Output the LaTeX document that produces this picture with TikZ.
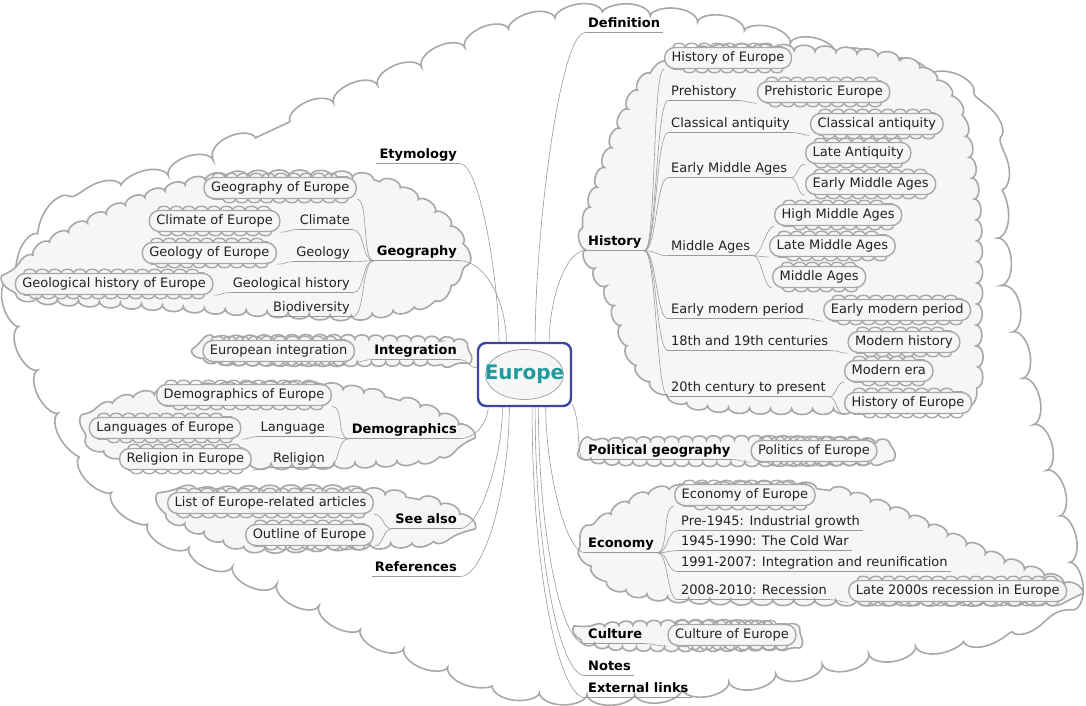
\documentclass[tikz,border=0pt]{standalone}
\usepackage{fontspec}
\setmainfont{DejaVu Sans}
\usetikzlibrary{decorations.pathmorphing, positioning}
\definecolor{cloudgray}{HTML}{A8A8A8}
\definecolor{cloudfill}{HTML}{F6F6F6}
\definecolor{linkgray}{HTML}{9A9A9A}
\definecolor{textgray}{HTML}{222222}
\definecolor{rootblue}{HTML}{3A46A0}
\definecolor{rootteal}{HTML}{22999A}
\pgfdeclarelayer{clouds}
\pgfdeclarelayer{links}
\pgfsetlayers{clouds,links,main}

\tikzset{
  fork/.style={draw=linkgray, line width=0.6pt},
  link/.style={draw=linkgray, line width=0.6pt},
  puffs/.style={draw=cloudgray, line width=1.4pt, decorate, decoration={bumps, segment length=25pt, amplitude=3.5pt}},
  topic/.style={font=\fontsize{13}{15}\selectfont, text=textgray, inner xsep=3pt, inner ysep=2pt,
    text height=10pt, text depth=3pt,
    append after command={(\tikzlastnode.south west) edge[fork] (\tikzlastnode.south east)}},
  maintopic/.style={topic, font=\fontsize{13}{15}\selectfont\bfseries, text=black},
  leaf/.style={font=\fontsize{13}{15}\selectfont, text=textgray, inner xsep=7pt, inner ysep=4pt,
    text height=10pt, text depth=3pt, rounded corners=10pt, fill=cloudfill, draw=cloudgray, line width=1.4pt,
    append after command={([xshift=9pt]\tikzlastnode.north west) edge[puffs] ([xshift=-9pt]\tikzlastnode.north east)
      ([xshift=-9pt]\tikzlastnode.south east) edge[puffs] ([xshift=9pt]\tikzlastnode.south west)}},
  groupcloud/.style={draw=cloudgray, fill=cloudfill, line width=1.6pt, decorate,
    decoration={bumps, segment length=42pt, amplitude=6pt}},
  smallcloud/.style={groupcloud, decoration={bumps, segment length=28pt, amplitude=4.5pt}},
  bigcloud/.style={groupcloud, fill=white, decoration={bumps, segment length=95pt, amplitude=12pt}},
}

\begin{document}
\begin{tikzpicture}[x=1pt, y=-1pt]
\useasboundingbox (0,0) rectangle (1086,705);

% clouds
\begin{pgfonlayer}{clouds}
\draw[bigcloud] plot[smooth cycle] coordinates {(178,172) (290,122) (400,76) (500,34) (590,16) (700,24)
  (830,54) (945,84) (990,140) (1000,260) (1028,400) (1060,520) (1066,586) (1006,626) (880,652)
  (760,676) (640,692) (520,688) (400,646) (300,596) (180,541) (100,476) (44,380) (18,300) (62,214)};
\draw[groupcloud] plot[smooth cycle] coordinates {(300,176) (380,182) (436,214) (462,252) (436,296)
  (360,314) (250,310) (130,303) (42,298) (18,290) (16,276) (50,244) (130,204) (210,180)};
\draw[smallcloud] plot[smooth cycle] coordinates {(330,339) (440,341) (458,344) (465,351) (458,358)
  (440,361) (330,362) (230,361) (206,357) (199,350) (206,343) (230,340)};
\draw[groupcloud] plot[smooth cycle] coordinates {(320,388) (400,401) (462,430) (430,456) (330,463)
  (200,462) (112,452) (92,436) (92,418) (130,400) (210,389)};
\draw[groupcloud] plot[smooth cycle] coordinates {(330,491) (420,500) (462,520) (430,539) (330,545)
  (250,546) (192,526) (168,512) (172,496) (200,493)};
\draw[groupcloud] plot[smooth cycle] coordinates {(800,51) (900,61) (954,104) (974,200) (976,320)
  (966,398) (850,408) (700,404) (642,370) (612,300) (586,242) (604,170) (642,86) (700,53)};
\draw[smallcloud] plot[smooth cycle] coordinates {(760,440) (876,443) (888,451) (876,460) (760,462)
  (620,461) (585,455) (585,447) (620,442)};
\draw[groupcloud] plot[smooth cycle] coordinates {(750,487) (830,491) (900,514) (990,556) (1068,587)
  (1052,599) (900,600) (700,598) (620,586) (584,548) (614,514) (660,493)};
\draw[smallcloud] plot[smooth cycle] coordinates {(720,624) (786,627) (797,636) (786,645) (700,647)
  (620,646) (585,640) (585,632) (620,626)};
\end{pgfonlayer}

% root
\node[draw=rootblue, line width=2.4pt, rounded corners=8pt, minimum width=93pt, minimum height=63pt,
  font=\fontsize{20}{24}\selectfont\bfseries, text=rootteal,
  path picture={\draw[cloudgray, fill=cloudfill, line width=0.8pt] (path picture bounding box.center) ellipse (39pt and 25pt);}]
  (europe) at (524.5,374.5) {Europe};

% main branches
\node[maintopic, anchor=east] (etym) at (460,155) {Etymology};
\node[maintopic, anchor=east] (geog) at (460,252) {Geography};
\node[maintopic, anchor=east] (integ) at (460,351) {Integration};
\node[maintopic, anchor=east] (demo) at (460,430) {Demographics};
\node[maintopic, anchor=east] (seealso) at (460,520) {See also};
\node[maintopic, anchor=east] (refs) at (460,568) {References};
\node[maintopic, anchor=west] (defn) at (585,24) {Definition};
\node[maintopic, anchor=west] (hist) at (585,242) {History};
\node[maintopic, anchor=west] (polgeo) at (585,451) {Political geography};
\node[maintopic, anchor=west] (econ) at (585,544) {Economy};
\node[maintopic, anchor=west] (cult) at (585,635) {Culture};
\node[maintopic, anchor=west] (notes) at (585,667) {Notes};
\node[maintopic, anchor=west] (extl) at (585,689) {External links};

% geography
\node[leaf, anchor=east] (geoeu) at (357,188) {Geography of Europe};
\node[topic, anchor=east] (climate) at (353,221) {Climate};
\node[topic, anchor=east] (geology) at (353,253) {Geology};
\node[topic, anchor=east] (geohist) at (353,284) {Geological history};
\node[topic, anchor=east] (biodiv) at (353,308) {Biodiversity};
\node[leaf, left=16pt of climate] (climeu) {Climate of Europe};
\node[leaf, left=16pt of geology] (geoleu) {Geology of Europe};
\node[leaf, left=16pt of geohist] (geohisteu) {Geological history of Europe};
\node[leaf, left=16pt of integ] (integeu) {European integration};

% demographics
\node[leaf, anchor=east] (demoeu) at (332,395) {Demographics of Europe};
\node[topic, anchor=east] (lang) at (328,428) {Language};
\node[topic, anchor=east] (relig) at (328,459) {Religion};
\node[leaf, left=16pt of lang] (langeu) {Languages of Europe};
\node[leaf, left=18pt of relig] (religeu) {Religion in Europe};

% see also
\node[leaf, anchor=east] (listeu) at (374,503) {List of Europe-related articles};
\node[leaf, anchor=east] (outline) at (374,535) {Outline of Europe};

% history
\node[leaf, anchor=west] (histeu) at (664,58) {History of Europe};
\node[topic, anchor=west] (prehist) at (668,92) {Prehistory};
\node[topic, anchor=west] (classant) at (668,124) {Classical antiquity};
\node[topic, anchor=west] (earlyma) at (668,169) {Early Middle Ages};
\node[topic, anchor=west] (midages) at (668,247) {Middle Ages};
\node[topic, anchor=west] (earlymod) at (668,310) {Early modern period};
\node[topic, anchor=west] (cent1819) at (668,342) {18th and 19th centuries};
\node[topic, anchor=west] (cent20) at (668,388) {20th century to present};
\node[leaf, right=17pt of prehist] (prehisteu) {Prehistoric Europe};
\node[leaf, right=17pt of classant] (classanteu) {Classical antiquity};
\node[leaf, anchor=west] (lateant) at (805,153) {Late Antiquity};
\node[leaf, anchor=west] (earlymaeu) at (805,184) {Early Middle Ages};
\node[leaf, anchor=west] (highma) at (774,215) {High Middle Ages};
\node[leaf, anchor=west] (latema) at (769,246) {Late Middle Ages};
\node[leaf, anchor=west] (midageseu) at (772,277) {Middle Ages};
\node[leaf, right=16pt of earlymod] (earlymodeu) {Early modern period};
\node[leaf, right=16pt of cent1819] (modhist) {Modern history};
\node[leaf, anchor=west] (modera) at (844,371) {Modern era};
\node[leaf, anchor=west] (histeutwo) at (844,403) {History of Europe};

% politics, economy, culture
\node[leaf, right=17pt of polgeo] (politeu) {Politics of Europe};
\node[leaf, anchor=west] (econeu) at (674,495) {Economy of Europe};
\node[topic, anchor=west] (pre1945) at (678,522) {Pre-1945: Industrial growth};
\node[topic, anchor=west] (coldwar) at (678,542) {1945-1990: The Cold War};
\node[topic, anchor=west] (reunif) at (678,563) {1991-2007: Integration and reunification};
\node[topic, anchor=west] (recess) at (678,591) {2008-2010: Recession};
\node[leaf, right=18pt of recess] (late2000) {Late 2000s recession in Europe};
\node[leaf, right=22pt of cult] (culteu) {Culture of Europe};

% connectors
\begin{pgfonlayer}{links}
\draw[link] (europe.128) .. controls +(0,-60) and +(20,0) .. (etym.south east);
\draw[link] (europe.119) .. controls +(0,-40) and +(25,0) .. (geog.south east);
\draw[link] (europe.172) .. controls +(-8,0) and +(8,0) .. (integ.south east);
\draw[link] (europe.222) .. controls +(0,15) and +(15,0) .. (demo.south east);
\draw[link] (europe.236) .. controls +(0,50) and +(20,0) .. (seealso.south east);
\draw[link] (europe.245) .. controls +(0,80) and +(25,0) .. (refs.south east);
\draw[link] (europe.72) .. controls +(0,-110) and +(-25,0) .. (defn.south west);
\draw[link] (europe.53) .. controls +(0,-40) and +(-20,0) .. (hist.south west);
\draw[link] (europe.328) .. controls +(10,20) and +(-10,0) .. (polgeo.south west);
\draw[link] (europe.303) .. controls +(0,60) and +(-20,0) .. (econ.south west);
\draw[link] (europe.293) .. controls +(0,120) and +(-25,0) .. (cult.south west);
\draw[link] (europe.288) .. controls +(0,150) and +(-25,0) .. (notes.south west);
\draw[link] (europe.283) .. controls +(0,170) and +(-25,0) .. (extl.south west);
\foreach \c in {geoeu,climate,geology,geohist,biodiv}
  \draw[link] (geog.south west) .. controls +(-12,0) and +(12,0) .. (\c.south east);
\foreach \c in {demoeu,lang,relig}
  \draw[link] (demo.south west) .. controls +(-12,0) and +(12,0) .. (\c.south east);
\foreach \c in {listeu,outline}
  \draw[link] (seealso.south west) .. controls +(-10,0) and +(10,0) .. (\c.south east);
\foreach \a/\b in {climate/climeu, geology/geoleu, geohist/geohisteu, lang/langeu, relig/religeu, integ/integeu}
  \draw[link] (\a.south west) .. controls +(-8,0) and +(8,0) .. (\b.south east);
\foreach \c in {histeu,prehist,classant,earlyma,midages,earlymod,cent1819,cent20}
  \draw[link] (hist.south east) .. controls +(12,0) and +(-12,0) .. (\c.south west);
\foreach \c in {econeu,pre1945,coldwar,reunif,recess}
  \draw[link] (econ.south east) .. controls +(12,0) and +(-12,0) .. (\c.south west);
\foreach \a/\b in {prehist/prehisteu, classant/classanteu, earlyma/lateant, earlyma/earlymaeu,
  midages/highma, midages/latema, midages/midageseu, earlymod/earlymodeu, cent1819/modhist,
  cent20/modera, cent20/histeutwo, polgeo/politeu, recess/late2000, cult/culteu}
  \draw[link] (\a.south east) .. controls +(8,0) and +(-8,0) .. (\b.south west);
\end{pgfonlayer}
\end{tikzpicture}
\end{document}
